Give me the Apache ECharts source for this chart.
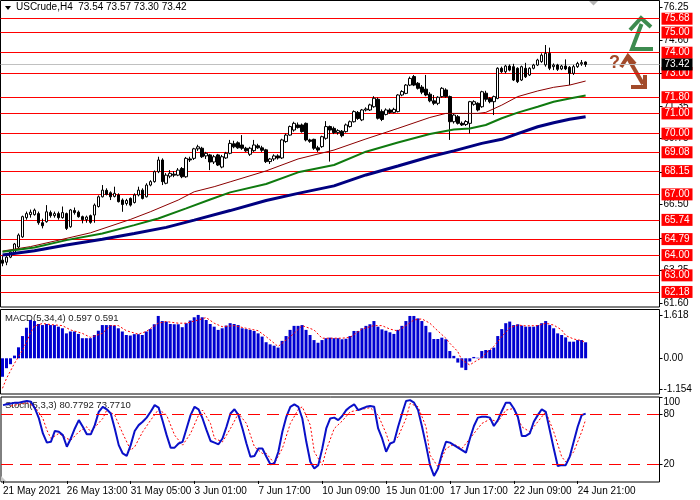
<!DOCTYPE html>
<html><head><meta charset="utf-8">
<script src="https://cdn.jsdelivr.net/npm/echarts@6.0.0/dist/echarts.min.js"></script>
<style>html,body{margin:0;padding:0;background:#fff}#c{width:700px;height:500px}</style>
</head><body><div id="c"></div>
<script>
// ---- data ----
const titleText = 'USCrude,H4  73.54 73.57 73.30 73.42';
const xLabels = ['21 May 2021','26 May 13:00','31 May 05:00','3 Jun 01:00','7 Jun 17:00','10 Jun 09:00','15 Jun 01:00','17 Jun 17:00','22 Jun 09:00','24 Jun 21:00'];
const priceTicks = [61.60, 63.25, 64.85, 66.50, 68.10, 69.75, 71.35, 73.00, 74.60, 76.25];
const levels = [75.68, 75.00, 74.00, 73.00, 71.80, 71.00, 70.00, 69.08, 68.15, 67.00, 65.74, 64.79, 64.00, 63.00, 62.18];
const lastPrice = 73.42;
// [open, close, low, high]
const candles = [
[63.75,63.60,63.45,63.95],[63.65,63.90,63.50,63.95],[63.90,64.15,63.85,64.20],[64.10,64.55,64.05,64.60],[64.40,64.99,64.35,65.07],
[64.90,65.90,64.85,65.95],[65.85,66.05,65.75,66.15],[66.00,66.12,65.85,66.25],[66.00,66.22,65.95,66.30],[66.05,65.60,65.50,66.15],
[65.60,65.45,65.32,65.80],[65.65,66.14,65.60,66.47],[66.10,65.95,65.85,66.20],[65.95,66.05,65.85,66.15],[66.05,65.85,65.75,66.15],
[65.85,66.10,65.80,66.40],[66.05,65.32,65.24,66.10],[65.40,66.23,65.35,66.28],[66.20,66.10,66.00,66.35],[66.12,65.90,65.85,66.20],
[65.90,65.75,65.57,65.95],[65.75,65.88,65.60,65.95],[65.95,65.62,65.55,66.00],[65.98,66.47,65.60,66.55],[66.40,66.88,66.35,66.95],
[66.88,67.21,66.85,67.46],[67.20,67.00,66.95,67.30],[67.08,66.88,66.72,67.15],[66.90,67.05,66.85,67.38],[66.97,66.64,66.60,67.05],
[66.72,66.50,66.14,66.80],[66.55,66.70,66.45,66.78],[66.80,66.47,66.40,66.85],[66.60,66.97,66.55,67.05],[66.97,67.21,66.90,67.38],
[67.21,66.80,66.75,67.30],[66.88,67.46,66.85,67.55],[67.46,67.63,67.40,67.70],[67.63,68.12,67.58,68.18],[68.12,68.70,68.05,68.86],
[68.70,67.63,67.46,68.78],[67.55,67.95,67.50,68.05],[67.90,68.04,67.80,68.20],[68.00,67.95,67.85,68.15],[67.95,68.20,67.90,68.30],
[68.28,67.87,67.80,68.35],[67.87,68.78,67.82,68.85],[68.75,68.70,68.60,68.86],[68.78,69.25,68.70,69.30],[69.25,69.35,69.15,69.45],
[69.28,68.86,68.80,69.35],[68.90,69.03,68.75,69.10],[68.95,68.60,68.20,69.00],[68.60,68.86,68.50,68.95],[68.95,68.45,68.40,69.00],
[68.35,68.86,68.29,68.95],[68.80,69.03,68.75,69.10],[69.03,69.52,68.98,69.69],[69.50,69.35,69.28,69.65],[69.55,69.30,69.25,69.62],
[69.44,69.28,69.20,69.93],[69.28,69.15,69.10,69.35],[68.98,69.28,68.90,69.35],[69.16,69.44,69.10,69.69],[69.40,69.30,69.25,69.50],
[69.30,69.18,69.10,69.40],[69.20,68.62,68.55,69.25],[68.62,68.75,68.50,68.80],[68.75,68.90,68.65,68.98],[68.90,68.80,68.72,68.98],
[68.80,69.69,68.75,69.75],[69.61,69.93,69.55,70.00],[69.93,70.35,69.90,70.40],[70.18,70.51,70.10,70.59],[70.43,70.30,70.25,70.55],
[70.43,70.10,70.05,70.50],[70.51,69.69,69.62,70.55],[69.69,69.62,69.55,69.75],[69.72,69.28,69.20,69.75],[69.30,69.19,69.10,69.40],
[69.36,69.85,69.30,69.90],[69.77,70.35,69.70,70.62],[70.35,70.18,68.62,70.40],[70.26,70.05,69.98,70.35],[70.05,70.15,69.95,70.22],
[70.12,69.90,69.82,70.18],[70.10,70.43,70.05,70.50],[70.35,70.59,70.30,70.65],[70.59,71.09,70.55,71.15],[71.05,70.75,70.68,71.12],
[70.68,71.17,70.62,71.22],[71.17,71.22,71.10,71.30],[71.17,71.42,71.12,71.48],[71.33,71.75,71.28,71.85],[71.70,70.76,70.70,71.78],
[71.10,70.70,70.62,71.20],[70.95,71.17,70.90,71.25],[71.17,71.05,70.98,71.25],[71.05,71.20,71.00,71.28],[71.09,71.91,71.05,71.95],
[71.91,72.08,71.85,72.15],[71.99,72.40,71.95,72.45],[72.40,72.73,72.35,72.82],[72.82,72.40,72.35,72.90],[72.49,72.24,72.18,72.55],
[72.30,72.05,71.95,72.40],[72.20,71.91,71.85,72.90],[71.95,71.62,71.55,72.05],[71.62,71.50,71.41,71.91],[71.50,71.80,71.41,71.85],
[71.83,72.24,71.78,72.30],[72.16,71.83,71.78,72.24],[71.83,70.59,69.69,71.88],[70.59,70.92,70.50,71.00],[70.84,70.51,70.45,70.92],
[70.51,70.43,70.38,70.60],[70.45,70.60,70.38,70.67],[70.51,71.58,70.01,71.62],[71.45,71.58,71.38,71.65],[71.50,71.17,71.10,71.55],
[71.33,72.07,71.28,72.12],[72.00,71.70,71.58,72.12],[71.74,71.58,71.50,71.80],[71.58,71.83,70.92,71.88],[71.74,73.23,71.70,73.28],
[73.23,73.06,73.00,73.31],[73.06,73.34,72.98,73.40],[73.34,73.14,73.08,73.42],[73.31,72.65,72.60,73.45],[73.23,72.57,72.50,73.28],
[72.65,73.31,72.60,73.36],[73.23,72.81,72.75,73.50],[72.90,73.23,72.85,73.28],[73.23,73.39,73.18,73.45],[73.39,73.64,73.34,73.70],
[73.56,73.88,73.50,73.97],[73.40,73.97,73.31,74.38],[73.97,73.23,73.14,74.25],[73.31,73.39,73.14,73.47],[73.39,73.18,73.10,73.45],
[73.20,73.34,73.14,73.40],[73.34,73.20,73.14,73.67],[73.28,72.98,72.40,73.34],[72.98,73.31,72.90,73.40],[73.31,73.47,73.25,73.55],
[73.45,73.51,73.35,73.64],[73.54,73.42,73.30,73.57]
];
// moving averages, [bar, value]
const maFast = [[0,64.20],[7,64.42],[15,64.78],[22,65.10],[32,65.76],[37,66.14],[44,66.72],[48,67.13],[53,67.38],[57,67.62],[66,68.16],[74,68.75],[83,69.19],[91,69.74],[99,70.26],[107,70.80],[111,71.00],[119,71.00],[121,71.05],[125,71.41],[129,71.83],[134,72.11],[138,72.29],[142,72.40],[146,72.60]];
const maMid = [[0,64.17],[8,64.38],[16,64.74],[25,65.07],[33,65.48],[39,65.81],[46,66.31],[52,66.75],[57,67.10],[66,67.51],[74,68.09],[83,68.45],[91,69.11],[99,69.56],[107,69.98],[113,70.21],[117,70.26],[121,70.43],[125,70.76],[129,71.04],[134,71.33],[138,71.58],[142,71.74],[146,71.88]];
const maSlow = [[0,64.00],[8,64.22],[16,64.50],[25,64.78],[33,65.07],[41,65.37],[48,65.73],[57,66.20],[66,66.70],[74,67.05],[83,67.42],[91,67.96],[99,68.40],[107,68.86],[113,69.15],[120,69.52],[125,69.72],[129,70.00],[134,70.34],[138,70.54],[142,70.71],[146,70.84]];
const macdLabel = 'MACD(5,34,4) 0.597 0.591';
const macdTicks = [-1.154, 0, 1.618];
const macdHist = [-0.69,-0.37,-0.22,0.10,0.41,0.83,1.14,1.43,1.39,1.28,1.24,1.28,1.24,1.24,1.18,1.12,0.93,1.00,1.00,0.91,
0.75,0.75,0.75,0.87,1.03,1.24,1.24,1.24,1.22,1.12,1.00,0.87,0.85,0.90,0.90,0.87,1.00,1.09,1.27,1.58,
1.39,1.37,1.28,1.27,1.27,1.16,1.31,1.41,1.53,1.618,1.53,1.43,1.28,1.18,1.06,1.12,1.22,1.31,1.28,1.24,
1.12,1.09,1.06,1.02,0.93,0.81,0.60,0.52,0.47,0.40,0.65,0.83,1.06,1.21,1.21,1.24,1.06,0.87,0.68,0.58,
0.68,0.75,0.77,0.75,0.75,0.71,0.73,0.83,1.02,1.02,1.12,1.21,1.27,1.39,1.18,1.08,1.03,0.97,0.91,1.06,
1.21,1.39,1.58,1.58,1.49,1.39,1.21,0.97,0.72,0.72,0.77,0.71,0.27,0.09,-0.16,-0.35,-0.44,-0.12,0.05,0.02,
0.27,0.31,0.31,0.40,0.83,1.09,1.31,1.37,1.24,1.27,1.22,1.18,1.18,1.18,1.24,1.31,1.39,1.24,1.12,0.93,
0.87,0.78,0.62,0.62,0.68,0.68,0.597];
const macdSignal = [[0,-1.12],[1,-0.75],[3,-0.19],[5,0.30],[6,0.60],[7,0.95],[8,1.20],[10,1.30],[12,1.26],[15,1.22],[17,1.06],[20,0.93],[22,0.78],[25,0.93],[27,1.22],[29,1.22],[31,1.03],[34,0.90],[36,1.00],[39,1.31],[41,1.37],[44,1.31],[46,1.31],[49,1.43],[51,1.52],[53,1.31],[55,1.18],[58,1.22],[61,1.12],[64,1.03],[66,0.81],[69,0.44],[70,0.56],[73,0.93],[75,1.22],[78,1.06],[80,0.75],[82,0.75],[85,0.75],[87,0.78],[90,1.09],[93,1.22],[95,1.22],[97,1.09],[99,1.02],[101,1.22],[103,1.43],[105,1.47],[107,1.31],[109,1.02],[111,0.75],[112,0.56],[114,0.25],[115,-0.06],[117,-0.25],[118,-0.15],[120,0.02],[121,0.19],[123,0.44],[125,0.81],[127,1.14],[129,1.24],[131,1.21],[134,1.22],[136,1.31],[138,1.24],[140,1.06],[141,0.85],[143,0.72],[145,0.66],[146,0.591]];
const stochLabel = 'Stoch(5,3,3) 80.7792 73.7710';
const stochTicks = [0, 20, 80, 100];
const stochLevels = [20, 80];
const stochMain = [91,92,93,94,94,95,96,95,87,75,57,46,47,60,59,55,41,51,63,73,
65,56,56,67,83,89,86,81,63,43,33,30,43,60,67,71,76,83,91,88,
72,55,40,40,45,47,63,79,89,86,75,61,48,46,44,51,65,81,86,79,
63,45,29,30,39,39,29,20,21,35,59,77,89,92,89,75,47,23,15,19,
39,63,75,76,73,78,85,89,92,85,87,89,90,89,63,51,35,45,47,65,
81,96,97,94,85,65,43,19,6,15,33,47,46,43,40,37,34,51,66,76,
77,77,76,66,73,84,94,94,87,77,54,54,57,71,79,86,83,61,39,18,
19,19,29,47,65,79,80.78];
const stochSignal = [[2,90],[6,94],[8,89],[10,75],[11,61],[12,51],[14,57],[16,51],[17,49],[19,59],[21,65],[22,59],[25,75],[26,85],[28,79],[30,57],[32,37],[33,41],[35,59],[37,73],[39,86],[41,79],[43,55],[45,43],[47,57],[49,79],[50,85],[52,69],[53,51],[55,47],[57,63],[59,81],[61,69],[63,41],[65,33],[66,33],[68,21],[70,39],[72,69],[74,86],[75,89],[77,67],[78,35],[80,19],[81,37],[83,63],[85,72],[87,83],[90,86],[92,88],[94,79],[96,57],[97,43],[99,53],[101,75],[102,93],[104,89],[106,65],[107,31],[109,17],[111,39],[113,44],[115,39],[117,51],[120,69],[122,74],[124,71],[126,85],[128,87],[130,65],[132,59],[134,71],[136,83],[138,59],[140,29],[141,23],[143,35],[145,59],[146,73.77]];
const slotCount = 165; // visible bar slots incl. right shift
const cats = Array.from({length: slotCount}, (_, i) => String(i));

// ---- chart ----
const FONT = 'Liberation Sans';
const chart = echarts.init(document.getElementById('c'), null, {renderer: 'canvas'});
const gridBase = {show: true, borderColor: '#000', borderWidth: 1, backgroundColor: 'transparent', left: 0.5, width: 659};
const hiddenX = (gi) => ({type: 'category', gridIndex: gi, data: cats, boundaryGap: true,
  axisLine: {show: false}, axisTick: {show: false}, axisLabel: {show: false}, splitLine: {show: false}});
const isLabelBar = (i) => i % 16 === 0 && i < candles.length;

const levelLines = levels.map(v => ({
  yAxis: v,
  lineStyle: {color: '#ff0000', width: 1, type: 'solid'},
  label: {show: true, position: 'end', distance: 2, formatter: v.toFixed(2), color: '#fff',
    backgroundColor: '#ff0000', fontFamily: FONT, fontSize: 10, lineHeight: 10, padding: [1, 3, 1, 3]}
}));
levelLines.push({
  yAxis: lastPrice,
  lineStyle: {color: '#c0c0c0', width: 1, type: 'solid'},
  label: {show: true, position: 'end', distance: 2, formatter: lastPrice.toFixed(2), color: '#fff',
    backgroundColor: '#000', fontFamily: FONT, fontSize: 10, lineHeight: 10, padding: [1, 3, 1, 3]}
});

const option = {
  animation: false,
  backgroundColor: '#fff',
  textStyle: {fontFamily: FONT},
  grid: [
    Object.assign({top: 0.5, height: 306.5}, gridBase),
    Object.assign({top: 309.5, height: 84.5}, gridBase),
    Object.assign({top: 397, height: 85}, gridBase)
  ],
  xAxis: [
    hiddenX(0), hiddenX(1),
    {type: 'category', gridIndex: 2, data: cats, boundaryGap: true,
      axisLine: {show: false},
      axisTick: {show: true, interval: isLabelBar, alignWithLabel: true, length: 3, lineStyle: {color: '#000'}},
      axisLabel: {show: true, interval: isLabelBar, align: 'left', margin: 4, color: '#000', fontFamily: FONT, fontSize: 10,
        formatter: (v, idx) => xLabels[idx / 16] || ''},
      splitLine: {show: false}}
  ],
  yAxis: [
    {type: 'value', gridIndex: 0, position: 'right', min: 61.436, max: 76.579,
      axisLine: {show: false}, splitLine: {show: false},
      axisTick: {show: true, length: 3, customValues: priceTicks, lineStyle: {color: '#000'}},
      axisLabel: {show: true, customValues: priceTicks, margin: 4, color: '#000', fontFamily: FONT, fontSize: 10,
        formatter: v => v.toFixed(2)}},
    {type: 'value', gridIndex: 1, position: 'right', min: -1.333, max: 1.821,
      axisLine: {show: false}, splitLine: {show: false},
      axisTick: {show: true, length: 3, customValues: macdTicks, lineStyle: {color: '#000'}},
      axisLabel: {show: true, customValues: macdTicks, margin: 4, color: '#000', fontFamily: FONT, fontSize: 10,
        formatter: v => v === 0 ? '0.00' : v.toFixed(3)}},
    {type: 'value', gridIndex: 2, position: 'right', min: -1.24, max: 100.76,
      axisLine: {show: false}, splitLine: {show: false},
      axisTick: {show: true, length: 3, customValues: stochTicks, lineStyle: {color: '#000'}},
      axisLabel: {show: true, customValues: stochTicks, margin: 4, color: '#000', fontFamily: FONT, fontSize: 10,
        formatter: v => v === 100 ? '{t|100}' : (v === 0 ? '{b|0}' : String(v)),
        rich: {t: {fontSize: 10, fontFamily: FONT, color: '#000', padding: [10, 0, 0, 0]},
               b: {fontSize: 10, fontFamily: FONT, color: '#000', padding: [0, 0, 14, 0]}}}}
  ],
  series: [
    {type: 'candlestick', name: 'USCrude', xAxisIndex: 0, yAxisIndex: 0, data: candles, barWidth: 3, z: 3,
      itemStyle: {color: '#fff', color0: '#000', borderColor: '#000', borderColor0: '#000', borderWidth: 1},
      markLine: {silent: true, symbol: ['none', 'none'], animation: false, z: 1, data: levelLines}},
    {type: 'line', name: 'MA fast', xAxisIndex: 0, yAxisIndex: 0, data: maFast, symbol: 'none', z: 4,
      lineStyle: {color: '#8b0000', width: 1}},
    {type: 'line', name: 'MA mid', xAxisIndex: 0, yAxisIndex: 0, data: maMid, symbol: 'none', z: 4,
      lineStyle: {color: '#0f7a0f', width: 2}},
    {type: 'line', name: 'MA slow', xAxisIndex: 0, yAxisIndex: 0, data: maSlow, symbol: 'none', z: 4,
      lineStyle: {color: '#000080', width: 3}},
    {type: 'bar', name: 'MACD', xAxisIndex: 1, yAxisIndex: 1, data: macdHist, barWidth: 3,
      itemStyle: {color: '#0000d0'}},
    {type: 'line', name: 'Signal', xAxisIndex: 1, yAxisIndex: 1, data: macdSignal, symbol: 'none',
      lineStyle: {color: '#ff0000', width: 1, type: [2, 2]}},
    {type: 'line', name: 'Stoch', xAxisIndex: 2, yAxisIndex: 2, data: stochMain, symbol: 'none', z: 4,
      lineStyle: {color: '#0a10c8', width: 2},
      markLine: {silent: true, symbol: ['none', 'none'], animation: false, label: {show: false},
        lineStyle: {color: '#ff0000', width: 1, type: [12, 7]},
        data: stochLevels.map(v => ({yAxis: v}))}},
    {type: 'line', name: 'Stoch signal', xAxisIndex: 2, yAxisIndex: 2, data: stochSignal, symbol: 'none', z: 3,
      lineStyle: {color: '#ff0000', width: 1, type: [2, 2]}}
  ],
  graphic: [
    {type: 'polygon', shape: {points: [[5, 6], [11, 6], [8, 10]]}, style: {fill: '#000'}},
    {type: 'text', left: 16, top: 2, style: {text: titleText, font: '10px ' + FONT, fill: '#000'}},
    {type: 'text', left: 5, top: 313, style: {text: macdLabel, font: '9.5px ' + FONT, fill: '#222'}},
    {type: 'text', left: 5, top: 400, style: {text: stochLabel, font: '9.5px ' + FONT, fill: '#222'}},
    {type: 'polygon', shape: {points: [[589, 1], [598, 1], [593.5, 5.5]]}, style: {fill: '#b4b4b4'}},
    {type: 'polygon', shape: {points: [[1, 476], [1, 481], [6, 481]]}, style: {fill: '#c8c8c8'}},
    // green up arrow
    {type: 'polyline', shape: {points: [[653, 49], [632, 49], [641.5, 24]]}, style: {stroke: '#3d8b4f', lineWidth: 4, fill: null, lineJoin: 'miter'}},
    {type: 'polyline', shape: {points: [[630, 30], [641, 18], [651, 27]]}, style: {stroke: '#3d8b4f', lineWidth: 4, fill: null, lineJoin: 'miter'}},
    // brown question + down arrow
    {type: 'text', left: 609, top: 54, style: {text: '?', font: 'bold 18px ' + FONT, fill: '#a24a2a'}},
    {type: 'polyline', shape: {points: [[621, 67], [628, 56], [635, 64]]}, style: {stroke: '#a24a2a', lineWidth: 4, fill: null, lineJoin: 'miter'}},
    {type: 'polyline', shape: {points: [[628, 58], [643, 84]]}, style: {stroke: '#a24a2a', lineWidth: 4, fill: null}},
    {type: 'polyline', shape: {points: [[631, 87], [645, 87], [645, 75]]}, style: {stroke: '#a24a2a', lineWidth: 4, fill: null, lineJoin: 'miter'}}
  ]
};
chart.setOption(option);
</script></body></html>
